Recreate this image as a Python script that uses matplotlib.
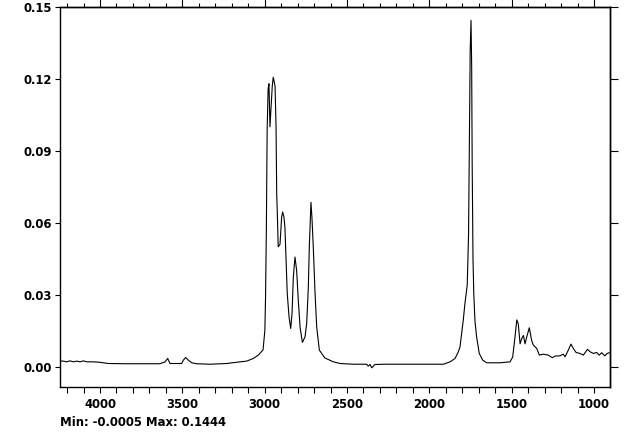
from matplotlib import pyplot as plt
from matplotlib.ticker import MultipleLocator, FuncFormatter
import numpy as np

plt.rcParams.update({'font.family': 'DejaVu Sans', 'font.weight': 'bold', 'font.size': 8.4})

# spectrum (wavenumber cm-1, absorbance)
wavenumber = [4243, 4223, 4203, 4182, 4162, 4142, 4121, 4101, 4081, 4041,
              4000, 3950, 3838, 3636, 3605, 3589, 3575, 3504, 3494, 3480,
              3464, 3443, 3413, 3332, 3231, 3150, 3109, 3069, 3039, 3010,
              2999, 2995, 2990, 2985, 2979, 2974, 2968, 2962, 2954, 2948,
              2937, 2931, 2927, 2922, 2918, 2907, 2897, 2891, 2883, 2877,
              2870, 2863, 2852, 2842, 2834, 2826, 2816, 2806, 2796, 2785,
              2771, 2755, 2745, 2735, 2729, 2719, 2713, 2705, 2694, 2684,
              2668, 2644, 2634, 2583, 2542, 2462, 2381, 2371, 2360, 2350,
              2330, 2259, 2057, 1915, 1874, 1844, 1824, 1814, 1804, 1794,
              1784, 1770, 1762, 1757, 1752, 1747, 1743, 1740, 1735, 1730,
              1723, 1713, 1697, 1676, 1652, 1571, 1510, 1494, 1480, 1469,
              1460, 1449, 1439, 1429, 1419, 1409, 1393, 1379, 1369, 1348,
              1332, 1308, 1278, 1253, 1237, 1207, 1187, 1176, 1156, 1140,
              1126, 1109, 1085, 1065, 1040, 1024, 1004, 984, 968, 954,
              934, 920, 907]
absorbance = [0.0023, 0.0023, 0.0020, 0.0024, 0.0020, 0.0023, 0.0020, 0.0024, 0.0020, 0.0020,
              0.0018, 0.0013, 0.0012, 0.0012, 0.0020, 0.0034, 0.0013, 0.0013, 0.0027, 0.0038,
              0.0027, 0.0016, 0.0012, 0.0010, 0.0013, 0.0020, 0.0023, 0.0034, 0.0048, 0.0070,
              0.015, 0.028, 0.056, 0.099, 0.116, 0.118, 0.100, 0.107, 0.117, 0.1207,
              0.117, 0.100, 0.072, 0.061, 0.050, 0.051, 0.0624, 0.0645, 0.0624, 0.058,
              0.0444, 0.0305, 0.0207, 0.0159, 0.022, 0.0374, 0.0457, 0.0402, 0.0277, 0.0164,
              0.0101, 0.0124, 0.018, 0.033, 0.050, 0.0685, 0.0622, 0.050, 0.0303, 0.0164,
              0.0069, 0.0045, 0.0036, 0.0020, 0.0013, 0.0010, 0.0010, 0.0002, 0.0009, -0.0005,
              0.0009, 0.0010, 0.0010, 0.0010, 0.0020, 0.0034, 0.0062, 0.0082, 0.0138, 0.0194,
              0.0263, 0.034, 0.055, 0.095, 0.132, 0.1444, 0.125, 0.085, 0.045, 0.030,
              0.019, 0.0124, 0.0055, 0.0027, 0.0016, 0.0016, 0.0020, 0.0040, 0.0123, 0.0195,
              0.0178, 0.0095, 0.0117, 0.0130, 0.0095, 0.0123, 0.0162, 0.0110, 0.0090, 0.0076,
              0.0048, 0.0052, 0.0048, 0.0037, 0.0044, 0.0045, 0.0052, 0.0041, 0.0069, 0.0094,
              0.0076, 0.0059, 0.0055, 0.0048, 0.0072, 0.0062, 0.0055, 0.0059, 0.0048, 0.0058,
              0.0045, 0.0055, 0.0058]

y_ticks = [0.00, 0.03, 0.06, 0.09, 0.12, 0.15]
x_ticks = [4000, 3500, 3000, 2500, 2000, 1500, 1000]

fig = plt.figure(figsize=(6.4, 4.42), dpi=100)
ax = fig.add_axes([60/640, 1-387/442, 550/640, 380/442])

ax.plot(wavenumber, absorbance, 'k', linewidth=0.8)

ax.set_xlim(4243, 903)
ax.set_ylim(-0.0085, 0.15)

for s in ax.spines.values():
    s.set_linewidth(1.0)

ax.set_yticks(y_ticks)
ax.yaxis.set_major_formatter(FuncFormatter(lambda v, p: '%.2f' % v))
ax.tick_params(axis='y', left=True, right=False, length=3.5, width=0.8, pad=2)

ax.set_xticks(x_ticks)
ax.xaxis.set_minor_locator(MultipleLocator(100))
ax.tick_params(axis='x', which='both', bottom=True, top=False, length=4, width=0.8, pad=4)

# top ticks, outward, longer at every 500
top = ax.secondary_xaxis('top')
top.set_xticks(x_ticks)
top.xaxis.set_minor_locator(MultipleLocator(100))
top.tick_params(which='major', length=5.5, width=0.8, labeltop=False)
top.tick_params(which='minor', length=3, width=0.8)
top.spines['top'].set_linewidth(1.0)

# right ticks, outward, no labels
right = ax.secondary_yaxis('right')
right.set_yticks(y_ticks)
right.tick_params(length=6, width=0.8, labelright=False)
right.spines['right'].set_linewidth(1.0)

fig.text(60/640, 1-423/442, 'Min: -0.0005 Max: 0.1444', ha='left', va='center', fontweight='bold')

plt.savefig('out.png', dpi=100)
